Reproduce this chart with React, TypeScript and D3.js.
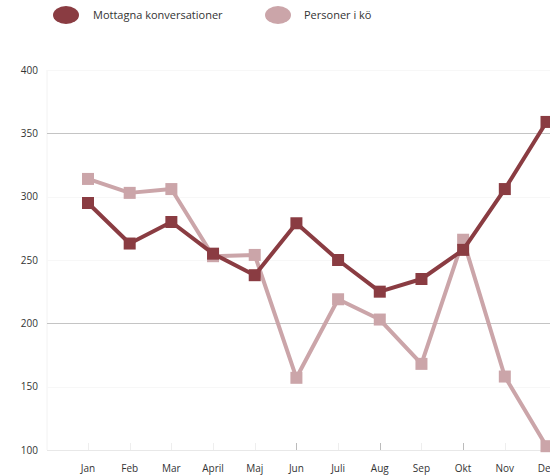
import React from "react";
import * as d3 from "d3";

const months = ["Jan", "Feb", "Mar", "April", "Maj", "Jun", "Juli", "Aug", "Sep", "Okt", "Nov", "Dec"];
const mottagna = [295, 263, 280, 255, 238, 279, 250, 225, 235, 258, 306, 359];
const personer = [314, 303, 306, 253, 254, 157, 219, 203, 168, 266, 158, 103];
const yTicks = [100, 150, 200, 250, 300, 350, 400];
const seriesNames = ["Mottagna konversationer", "Personer i kö"];

const DARK = "#8a3c42";
const LIGHT = "#cba5a9";
const FONT = "'Open Sans', 'DejaVu Sans', sans-serif";

export default function App() {
  const W = 550;
  const H = 476;
  const x = d3.scalePoint<string>().domain(months).range([88, 546.5]);
  const y = d3.scaleLinear().domain([100, 400]).range([450, 70]);
  const line = d3
    .line<number>()
    .x((_, i) => x(months[i]) as number)
    .y((d) => y(d));
  const series = [
    { name: seriesNames[1], data: personer, color: LIGHT },
    { name: seriesNames[0], data: mottagna, color: DARK },
  ];
  const strong = (v: number) => v === 350 || v === 200;
  const ms = 12;
  return (
    <svg
      width={W}
      height={H}
      style={{ position: "fixed", left: 0, top: 0, background: "#fff" }}
      fontFamily={FONT}
    >
      {/* legend */}
      <ellipse cx={66} cy={15} rx={13} ry={9} fill={DARK} />
      <text x={93} y={19} fontSize={11} fill="#333">{seriesNames[0]}</text>
      <ellipse cx={278} cy={15} rx={13} ry={9} fill={LIGHT} />
      <text x={304} y={19} fontSize={11} fill="#333">{seriesNames[1]}</text>

      {/* y axis line */}
      <line x1={47} x2={47} y1={y(400)} y2={y(100)} stroke="#f2f2f2" />
      {/* gridlines */}
      {yTicks.map((t) => (
        <line
          key={t}
          x1={47}
          x2={W}
          y1={Math.round(y(t)) + 0.5}
          y2={Math.round(y(t)) + 0.5}
          stroke={t === 100 ? "#e8e8e8" : strong(t) ? "#c4c4c4" : "#f7f7f7"}
        />
      ))}
      {yTicks.map((t) => (
        <text key={t} x={38} y={y(t) + 3.5} fontSize={10} textAnchor="end" fill="#333">
          {t}
        </text>
      ))}
      {/* x ticks */}
      {months.map((m, i) => (
        <line
          key={m}
          x1={Math.round(x(m) as number) + 0.5}
          x2={Math.round(x(m) as number) + 0.5}
          y1={y(100)}
          y2={y(100) - 7}
          stroke={i >= 5 && i % 2 === 1 ? "#bbb" : "#eee"}
        />
      ))}
      {months.map((m) => (
        <text key={m} x={x(m)} y={472} fontSize={10} textAnchor="middle" fill="#333">
          {m}
        </text>
      ))}

      {series.map((s) => (
        <g key={s.name}>
          <path d={line(s.data) || ""} fill="none" stroke={s.color} strokeWidth={4} strokeLinejoin="round" />
          {s.data.map((v, i) => (
            <rect
              key={i}
              x={(x(months[i]) as number) - ms / 2}
              y={y(v) - ms / 2}
              width={ms}
              height={ms}
              fill={s.color}
            />
          ))}
        </g>
      ))}
    </svg>
  );
}
